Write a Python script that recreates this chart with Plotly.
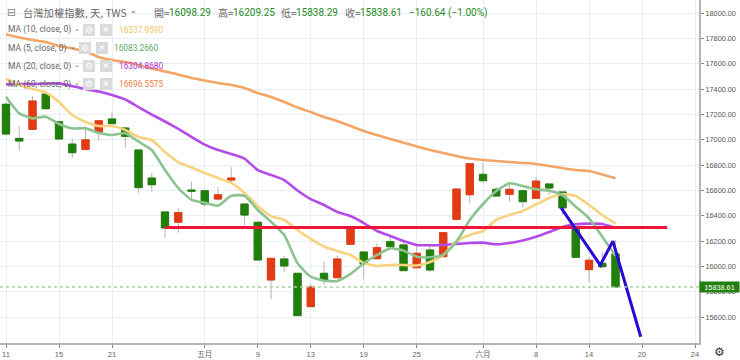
import plotly.graph_objects as go

tick_idx = [0, 4, 8, 15, 19, 23, 27, 31, 36, 40, 44, 48, 52]
tick_txt = ["11", "15", "21", "五月", "9", "13", "19", "25", "六月", "8", "14", "20", "24"]
y_ticks = [15600, 15800, 16000, 16200, 16400, 16600, 16800, 17000, 17200, 17400, 17600, 17800, 18000]

opens = [17280,17011,17082,17361,17142,16966,16924,17056,17164,17093,16919,16698,16430,16349,16603,16598,16532,16682,16493,16349,15893,16059,15946,15683,15946,15911,16175,16114,16061,16196,16170,15990,16130,16077,16372,16566,16727,16609,16569,16598,16538,16651,16588,16301,15975,16025,16098.29]
closes = [17045,16990,17306,17245,17006,16898,17000,17150,17127,17027,16622,16645,16304,16425,16594,16493,16566,16698,16406,16051,16064,16004,15612,15838,15893,16059,16301,16019,16149,16156,15967,16104,15972,16267,16611,16811,16677,16556,16609,16511,16674,16619,16462,16072,16049,15998,15838.61]
highs = [17300,17108,17345,17377,17150,17006,17108,17150,17216,17100,16919,16738,16430,16459,16669,16600,16625,16787,16493,16349,16064,16083,15946,15862,16035,16088,16301,16114,16183,16230,16209,16177,16162,16267,16611,16811,16814,16625,16643,16598,16708,16651,16588,16301,16072,16117,16209.25]
lows = [17045,16911,17082,17245,17006,16856,16924,16992,17127,16932,16582,16590,16222,16267,16525,16472,16519,16651,16322,16051,15741,15959,15612,15683,15852,15911,16175,15899,16061,16156,15967,15990,15954,16077,16372,16498,16656,16556,16511,16467,16538,16564,16406,16072,15872,15985,15838.29]

ma5 = [17340,17209,17169,17182,17124,17090,17090,17056,17037,17051,16985,16919,16761,16619,16525,16503,16480,16558,16558,16446,16353,16248,16025,15919,15888,15885,15941,16025,16091,16143,16125,16077,16073,16091,16196,16367,16493,16596,16656,16635,16609,16598,16564,16472,16380,16235,16083]
ma10 = [17482,17434,17400,17373,17298,17195,17140,17108,17108,17077,17022,16998,16903,16824,16781,16738,16698,16659,16580,16477,16398,16367,16288,16217,16158,16122,16091,16028,16004,16012,16012,16008,16035,16091,16201,16249,16280,16368,16406,16438,16489,16540,16572,16556,16485,16406,16338]
ma20 = [17437,17440,17440,17444,17445,17424,17400,17381,17353,17318,17258,17199,17144,17085,17022,16962,16919,16888,16852,16761,16722,16682,16600,16532,16485,16430,16398,16343,16280,16241,16201,16170,16167,16170,16178,16185,16188,16175,16185,16205,16235,16272,16312,16333,16338,16335,16305]
ma60 = [17830,17807,17787,17771,17740,17720,17696,17653,17629,17613,17590,17562,17538,17515,17487,17467,17448,17432,17408,17369,17337,17298,17254,17219,17179,17148,17108,17069,17037,17006,16977,16947,16919,16895,16872,16852,16840,16832,16824,16817,16809,16793,16777,16761,16753,16726,16697]

support_x = [12, 49.9]
support_y = [16308, 16308]
arrow_x = [41.9, 44.85, 45.8, 47.9]
arrow_y = [16462, 16010, 16200, 15445]

last_price = 15838.61
header = [("開=", 152, "#666"), ("16098.29", 167, "#1f8b24"), ("高=", 216, "#666"), ("16209.25", 231, "#1f8b24"),
          ("低=", 279, "#666"), ("15838.29", 294, "#1f8b24"), ("收=", 343, "#666"), ("15838.61", 358, "#1f8b24"),
          ("−160.64", 407, "#1f8b24"), ("(−1.00%)", 446, "#1f8b24")]
legend_rows = [("MA (10, close, 0)", 30, 83, 117, "16337.9590", "#f3c35f", 72),
               ("MA (5, close, 0)", 48, 79, 112, "16083.2660", "#5aa86a", 68),
               ("MA (20, close, 0)", 66, 83, 117, "16304.8680", "#b030e0", 72),
               ("MA (60, close, 0)", 84, 83, 117, "16696.5575", "#f07f45", 72)]

GREEN, RED, WICK = "#217f0b", "#e33b14", "#b4b4b4"
xs = list(range(len(opens)))
W, H = 699, 343
fx = lambda p: p / W
fy = lambda p: 1 - p / H

fig = go.Figure()
fig.add_trace(go.Candlestick(x=xs, open=opens, high=highs, low=lows, close=closes,
    increasing=dict(line=dict(color=WICK, width=1), fillcolor=WICK),
    decreasing=dict(line=dict(color=WICK, width=1), fillcolor=WICK), showlegend=False))
fig.add_trace(go.Candlestick(x=xs, open=opens, close=closes,
    high=[max(a, b) for a, b in zip(opens, closes)], low=[min(a, b) for a, b in zip(opens, closes)],
    increasing=dict(line=dict(color=RED, width=1), fillcolor=RED),
    decreasing=dict(line=dict(color=GREEN, width=1), fillcolor=GREEN), showlegend=False))
for name, vals, col in [("MA60", ma60, "#f3a566"), ("MA20", ma20, "#b44be8"), ("MA10", ma10, "#f8d27e"), ("MA5", ma5, "#8cc490")]:
    fig.add_trace(go.Scatter(x=xs, y=vals, mode="lines", name=name, line=dict(color=col, width=2.6, shape="spline", smoothing=0.5), showlegend=False))
fig.add_trace(go.Scatter(x=support_x, y=support_y, mode="lines", line=dict(color="#ee1537", width=3), showlegend=False))
fig.add_trace(go.Scatter(x=arrow_x, y=arrow_y, mode="lines", line=dict(color="#2a08d8", width=3), showlegend=False))

ann = []
def text(t, x, y, size, color, font="Roboto", **kw):
    ann.append(dict(text=t, x=fx(x), y=fy(y), xref="paper", yref="paper", xanchor=kw.pop("xanchor", "left"),
                    yanchor="middle", showarrow=False, font=dict(family=font, size=size, color=color), **kw))

text("台灣加權指數, 天, TWS", 21, 12.5, 10.3, "#666", "Noto Sans CJK TC")
text("⌄", 128, 11, 8, "#666", "DejaVu Sans")
text("⊟", 5, 12.5, 11, "#888", "DejaVu Sans")
for t, x, c in header:
    text(t, x, 12.5, 10, c, "Noto Sans CJK TC" if ord(t[0]) > 0x3000 else "Roboto")

shapes = [dict(type="line", xref="paper", x0=0, x1=1, yref="y", y0=last_price, y1=last_price,
               line=dict(color="#a9d3a4", width=1.5, dash="dot"), layer="above")]
for label, y, icon, vx, val, col, chev in legend_rows:
    text(label, 6, y, 8.5, "#666")
    text("⌄", chev, y - 1, 7, "#666", "DejaVu Sans")
    for k, glyph in ((0, "⚙"), (1, "✕")):
        x0 = icon + k * 17
        shapes.append(dict(type="rect", xref="paper", yref="paper", x0=fx(x0), x1=fx(x0 + 12),
                           y0=fy(y + 6), y1=fy(y - 6), fillcolor="#dadada", line=dict(width=0), layer="above"))
        text(glyph, x0 + 6, y, 9, "#fff", "DejaVu Sans", xanchor="center")
    text(val, vx, y, 8.3, col)
text("15838.61", 699, 286.5, 7.3, "#fff", "Liberation Sans", bgcolor=GREEN, width=38, height=9, align="center", borderpad=0.5)
text("⚙", 719, 352, 12, "#333", "DejaVu Sans", xanchor="center")

fig.update_layout(width=740, height=360, margin=dict(l=0, r=41, t=0, b=17), paper_bgcolor="#fff", plot_bgcolor="#fff",
    boxmode="overlay", boxgap=0.45, boxgroupgap=0, showlegend=False, shapes=shapes, annotations=ann,
    xaxis=dict(range=[-0.453, 52.3], tickmode="array", tickvals=tick_idx, ticktext=tick_txt, rangeslider=dict(visible=False), automargin=False,
               showgrid=True, gridcolor="#e9eef2", gridwidth=1, zeroline=False, showline=True, linecolor="#b4b4b4", linewidth=2,
               ticks="outside", ticklen=3, tickcolor="#888", tickfont=dict(family="Liberation Sans, Noto Sans CJK TC", size=7.5, color="#666")),
    yaxis=dict(range=[15396, 18103], side="right", tickmode="array", tickvals=y_ticks, ticktext=[f"{v:.2f}" for v in y_ticks], automargin=False,
               showgrid=True, gridcolor="#e9eef2", gridwidth=1, zeroline=False, showline=True, linecolor="#b4b4b4", linewidth=2,
               ticks="outside", ticklen=3, tickcolor="#888", tickfont=dict(family="Liberation Sans", size=7.3, color="#555")))
fig.write_html("out.html", config=dict(displayModeBar=False), post_script="document.body.style.margin='0';")
